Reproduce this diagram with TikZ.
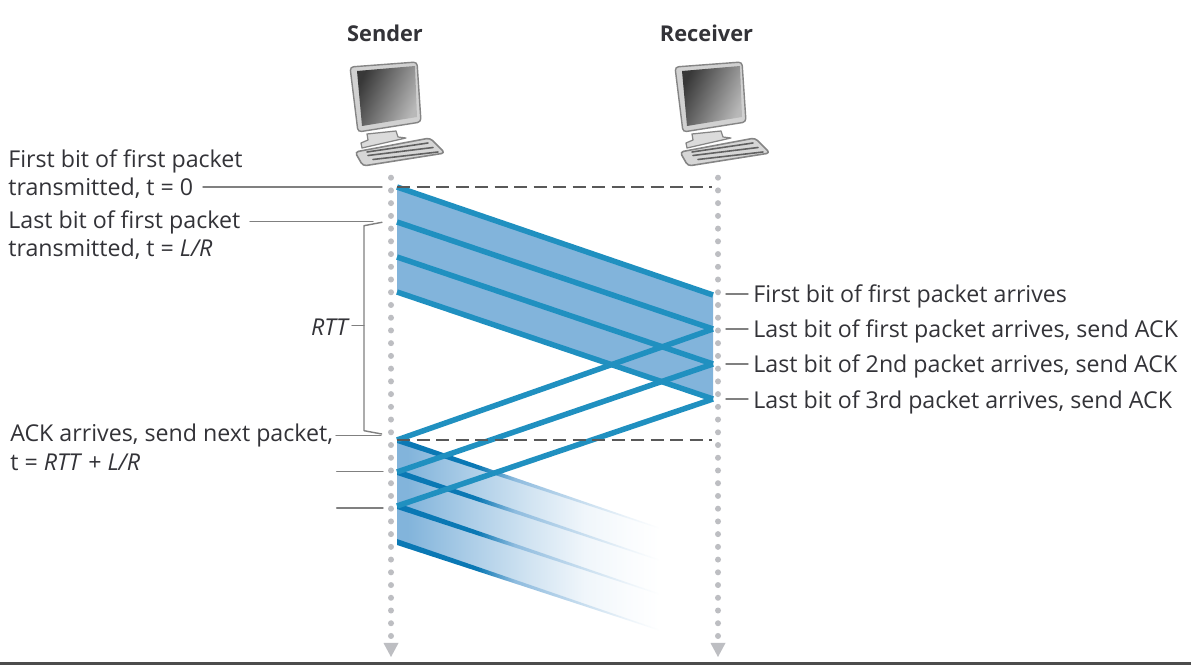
\documentclass[tikz,border=0pt]{standalone}
\usepackage{fontspec}
\setmainfont{Open Sans}
\usetikzlibrary{arrows.meta,positioning}
\definecolor{bandblue}{HTML}{82B4DB}
\definecolor{pktblue}{HTML}{2090C0}
\definecolor{pktdark}{HTML}{0A78B4}
\definecolor{dotgray}{HTML}{BDBEC2}
\definecolor{txtgray}{HTML}{333338}
\pgfdeclarehorizontalshading{bandfade}{100bp}{color(0bp)=(bandblue); color(27bp)=(bandblue); color(38bp)=(bandblue!68!white); color(50bp)=(bandblue!36!white); color(60bp)=(bandblue!12!white); color(68bp)=(bandblue!4!white); color(74bp)=(white); color(100bp)=(white)}
\pgfdeclarehorizontalshading{linefade}{100bp}{color(0bp)=(pktdark); color(40bp)=(pktdark); color(47bp)=(bandblue!90!white); color(58bp)=(bandblue!50!white); color(68bp)=(bandblue!16!white); color(74bp)=(white); color(100bp)=(white)}
\tikzset{
  lbl/.style={font=\fontsize{13.2}{16}\selectfont,text=txtgray,inner sep=0pt,align=left},
  head/.style={font=\fontsize{12.4}{14}\selectfont\bfseries,text=txtgray,inner sep=0pt},
  leader/.style={draw=black!50,line width=.8pt},
  timeline/.style={draw=dotgray,line width=6*.02cm,line cap=round,dash pattern=on 0pt off 12.73*.02cm},
  pkt/.style={draw=pktblue,line width=5.5*.02cm,line cap=butt},
  guide/.style={draw=black!65,line width=1.1pt,line cap=butt,dash pattern=on 13*.02cm off 6.5*.02cm},
  computer/.pic={
    % monitor
    \fill[black!18,draw=black!48,line width=.8pt,rounded corners=2pt] (0,5) -- (67,0) -- (71,60) -- (8,70) -- cycle;
    \shade[left color=black!78,middle color=black!48,right color=black!28,shading angle=65] (7,9) -- (65,4) -- (67,55) -- (12,64) -- cycle;
    % stand
    \fill[black!14,draw=black!48,line width=.7pt] (17,72) -- (46,69) -- (48,75) -- (56,76) -- (12,86) -- (11,81) -- (18,78) -- cycle;
    % keyboard
    \fill[black!16,draw=black!48,line width=.9pt,rounded corners=2pt] (5,90) -- (80,76) -- (95,91) -- (13,104) -- cycle;
    \draw[black!62,line width=.9pt] (17,90) -- (78,81) (18,93.5) -- (83,85.5) (23,97.5) -- (88,90);
  }
}
\begin{document}
\begin{tikzpicture}[x=.02cm,y=-.02cm,line cap=round,line join=round]
\useasboundingbox (0,0) rectangle (1191,665);
\fill[white] (0,0) rectangle (1191,665);
\fill[black!70] (0,662.5) rectangle (1191,665);
% hosts
\node[head] (sender) at (385,33) {Sender};
\node[head] (receiver) at (706.5,33) {Receiver};
\pic at (350,62) {computer};
\pic at (675,62) {computer};
% time lines
\coordinate (sendertop) at (391,177.7);
\coordinate (senderend) at (391,640);
\coordinate (receivertop) at (718,177.7);
\coordinate (receiverend) at (718,640);
\draw[timeline] (sendertop) -- (senderend);
\draw[timeline] (receivertop) -- (receiverend);
\fill[dotgray] (383.5,643) -- (398.5,643) -- (391,657) -- cycle;
\fill[dotgray] (710.5,643) -- (725.5,643) -- (718,657) -- cycle;
% packet ends
\coordinate (s1) at (397,187);
\coordinate (s2) at (397,222);
\coordinate (s3) at (397,257);
\coordinate (s4) at (397,292);
\coordinate (r1) at (713,295);
\coordinate (r2) at (713,329);
\coordinate (r3) at (713,364);
\coordinate (r4) at (713,399);
\coordinate (a1) at (397,440);
\coordinate (a2) at (397,472);
\coordinate (a3) at (397,506);
\coordinate (a4) at (397,542);
% first window
\fill[bandblue] (s1) -- (r1) -- (r4) -- (s4) -- cycle;
\draw[pkt] (s1) -- (r1);
\draw[pkt] (s2) -- (r2);
\draw[pkt] (s3) -- (r3);
\draw[pkt] (s4) -- (r4);
% next window
\shade[shading=bandfade] (a1) -- (665,530) -- (665,632) -- (a4) -- cycle;
\foreach \ya/\yb in {440/530,472/562,506/596,542/632}{
  \shade[shading=linefade] (397,\ya-3) -- (665,\yb-.5) -- (665,\yb+.5) -- (397,\ya+3) -- cycle;
}
% acks
\draw[pkt] (r2) -- (a1);
\draw[pkt] (r3) -- (a2);
\draw[pkt] (r4) -- (a3);
% dashed guides
\coordinate (g1) at (712,187);
\coordinate (g2) at (712,440);
\draw[guide] (s1) -- (g1);
\draw[guide] (a1) -- (g2);
% left labels
\node[lbl,anchor=north west] (firstsent) at (8,149) {First bit of first packet\\transmitted, t = 0};
\node[lbl,anchor=north west] (lastsent) at (8,210) {Last bit of first packet\\transmitted, t = \textit{L/R}};
\node[lbl,anchor=north west] (acksent) at (10,424) {ACK arrives, send next packet,\\t = \textit{RTT} + \textit{L/R}};
\node[lbl,anchor=east] (rtt) at (350,327) {\textit{RTT}};
\coordinate (l1a) at (203,187);
\coordinate (l1b) at (382,187);
\coordinate (l2a) at (250,221.7);
\coordinate (l2b) at (373,221.7);
\coordinate (l3a) at (336,435.3);
\coordinate (l3b) at (381,435.3);
\coordinate (l4a) at (336.7,471.7);
\coordinate (l4b) at (383,471.7);
\coordinate (l5a) at (336.7,508);
\coordinate (l5b) at (383,508);
\draw[leader] (l1a) -- (l1b);
\draw[leader] (l2a) -- (l2b);
\draw[leader] (l3a) -- (l3b);
\draw[leader] (l4a) -- (l4b);
\draw[leader] (l5a) -- (l5b);
% rtt bracket
\coordinate (b1) at (382,222.3);
\coordinate (b2) at (364,225.7);
\coordinate (b3) at (364,430.7);
\coordinate (b4) at (381.7,434);
\coordinate (bm) at (364,325.7);
\coordinate (bt) at (352,325.7);
\draw[leader] (b1) -- (b2) -- (b3) -- (b4);
\draw[leader] (bt) -- (bm);
% right labels
\node[lbl,anchor=west] (arr1) at (753,296) {First bit of first packet arrives};
\node[lbl,anchor=west] (arr2) at (753,331) {Last bit of first packet arrives, send ACK};
\node[lbl,anchor=west] (arr3) at (753,366) {Last bit of 2nd packet arrives, send ACK};
\node[lbl,anchor=west] (arr4) at (753,402) {Last bit of 3rd packet arrives, send ACK};
\foreach \n/\y in {1/294,2/329,3/364,4/399}{
  \coordinate (m\n) at (726,\y);
  \coordinate (e\n) at (748,\y);
  \draw[leader] (m\n) -- (e\n);
}
\end{tikzpicture}
\end{document}
